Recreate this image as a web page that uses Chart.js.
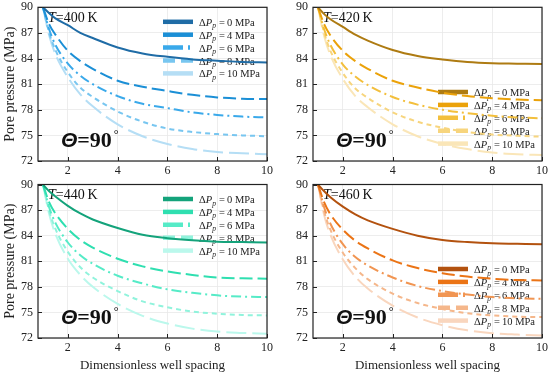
<!DOCTYPE html>
<html lang="en">
<head>
<meta charset="UTF-8">
<title>Pore pressure vs dimensionless well spacing</title>
<script src="https://cdn.jsdelivr.net/npm/chart.js"></script>
<style>
  html, body { margin: 0; padding: 0; background: #fff; }
  #wrap { position: relative; width: 550px; height: 375px; overflow: hidden; }
  #wrap canvas { position: absolute; }
</style>
</head>
<body>
<div id="wrap">
  <canvas id="c400" width="276" height="186" style="left:0;top:-6px"></canvas>
  <canvas id="c420" width="276" height="186" style="left:275px;top:-6px"></canvas>
  <canvas id="c440" width="276" height="205" style="left:0;top:170px"></canvas>
  <canvas id="c460" width="276" height="205" style="left:275px;top:170px"></canvas>
</div>
<script>
// x values (dimensionless well spacing) and tick labels
var spacing = [1, 1.25, 1.5, 2, 2.5, 3, 4, 5, 6, 7, 8, 9, 10];
var deltaPp = [0, 4, 6, 8, 10];
var xTicks = [2, 4, 6, 8, 10];
var yTicks = [72, 75, 78, 81, 84, 87, 90];

// pore pressure (MPa), one row per delta Pp
var pore400 = [
  [90, 89.3, 88.7, 87.9, 87.0, 86.4, 85.3, 84.6, 84.2, 83.9, 83.75, 83.6, 83.55],
  [90, 88.0, 86.8, 84.9, 83.7, 82.8, 81.4, 80.7, 80.2, 79.75, 79.45, 79.3, 79.25],
  [90, 87.4, 85.6, 83.4, 82.0, 81.0, 79.6, 78.7, 78.2, 77.7, 77.4, 77.2, 77.1],
  [90, 87.0, 85.0, 82.4, 80.6, 79.5, 77.8, 76.6, 75.8, 75.4, 75.15, 75.0, 74.9],
  [90, 86.7, 84.5, 81.8, 79.8, 78.4, 76.3, 74.9, 74.0, 73.4, 73.05, 72.9, 72.8]
];
var pore420 = [
  [90, 89.2, 88.6, 87.7, 86.8, 86.1, 85.0, 84.3, 83.9, 83.6, 83.45, 83.4, 83.35],
  [90, 88.0, 86.7, 84.9, 83.7, 82.8, 81.4, 80.6, 80.0, 79.6, 79.35, 79.2, 79.1],
  [90, 87.4, 85.6, 83.3, 81.9, 80.9, 79.5, 78.6, 78.0, 77.6, 77.3, 77.1, 77.0],
  [90, 87.0, 84.9, 82.3, 80.5, 79.4, 77.7, 76.6, 75.9, 75.4, 75.1, 74.95, 74.85],
  [90, 86.6, 84.4, 81.6, 79.6, 78.3, 76.3, 74.9, 74.0, 73.4, 73.0, 72.8, 72.7]
];
var pore440 = [
  [90, 89.2, 88.6, 87.5, 86.6, 85.9, 84.9, 84.1, 83.7, 83.45, 83.3, 83.25, 83.2],
  [90, 87.9, 86.6, 84.8, 83.5, 82.6, 81.3, 80.4, 79.8, 79.4, 79.1, 79.0, 78.95],
  [90, 87.3, 85.5, 83.2, 81.7, 80.7, 79.3, 78.4, 77.7, 77.3, 77.0, 76.85, 76.8],
  [90, 86.9, 84.8, 82.1, 80.3, 79.1, 77.5, 76.3, 75.6, 75.1, 74.85, 74.7, 74.65],
  [90, 86.5, 84.2, 81.3, 79.4, 78.0, 76.0, 74.6, 73.7, 73.1, 72.75, 72.6, 72.5]
];
var pore460 = [
  [90, 89.2, 88.5, 87.4, 86.5, 85.8, 84.8, 84.0, 83.5, 83.25, 83.1, 83.05, 83.0],
  [90, 87.9, 86.5, 84.7, 83.4, 82.5, 81.1, 80.2, 79.6, 79.2, 78.95, 78.8, 78.75],
  [90, 87.3, 85.4, 83.0, 81.5, 80.5, 79.1, 78.1, 77.5, 77.1, 76.8, 76.65, 76.6],
  [90, 86.8, 84.7, 82.0, 80.2, 78.9, 77.2, 76.1, 75.4, 74.9, 74.65, 74.5, 74.45],
  [90, 86.4, 84.1, 81.2, 79.2, 77.8, 75.8, 74.4, 73.5, 72.9, 72.55, 72.4, 72.3]
];

var colors400 = ['#1f6ca6', '#1b8fd6', '#3aa9ea', '#78c6f0', '#b5def5'];
var colors420 = ['#ae7b12', '#eba20a', '#f3bf3c', '#f7d57e', '#fae6b8'];
var colors440 = ['#14a37b', '#2fdfb0', '#56ebc7', '#90f3dc', '#bbf8ec'];
var colors460 = ['#b3520f', '#eb7416', '#f19552', '#f5b78b', '#f9d6be'];
var lineDash = [[], [13, 5], [10, 4, 2, 4], [5, 4], [20, 6]];
var legendDash = [[], [], [20, 5, 2, 10], [12, 6], []];

var SERIF = "'Liberation Serif', 'Times New Roman', serif";

// draws frame, inward ticks, legend and the two labels
var decorPlugin = {
  id: 'decor',
  beforeDatasetsDraw: function (chart) {
    var o = chart.options.plugins.decor;
    var ctx = chart.ctx, a = chart.chartArea;
    ctx.save();
    // T = ... K
    var x = a.left + 10, y = a.top + 14.5;
    ctx.fillStyle = '#111';
    ctx.textBaseline = 'alphabetic';
    ctx.font = 'italic 14px ' + SERIF;
    ctx.fillText('T', x, y);
    x += ctx.measureText('T').width;
    ctx.font = '14px ' + SERIF;
    ctx.fillText('=' + o.temp + '\u2009K', x, y);

    // legend
    var rowY = o.legend === 'top' ? a.top + 14.5 : a.bottom - 69;
    chart.data.datasets.forEach(function (ds, i) {
      var ry = rowY + i * 12.9;
      ctx.strokeStyle = ds.borderColor;
      ctx.lineWidth = 4.5;
      ctx.setLineDash(legendDash[i]);
      ctx.beginPath();
      ctx.moveTo(a.left + 125, ry);
      ctx.lineTo(a.left + 155, ry);
      ctx.stroke();
      ctx.setLineDash([]);
      var tx = a.left + 161, ty = ry + 4;
      ctx.fillStyle = '#222';
      ctx.font = '10.5px ' + SERIF;
      ctx.fillText('\u0394', tx, ty);
      tx += ctx.measureText('\u0394').width;
      ctx.font = 'italic 10.5px ' + SERIF;
      ctx.fillText('P', tx, ty);
      tx += ctx.measureText('P').width;
      ctx.font = 'italic 7.5px ' + SERIF;
      ctx.fillText('p', tx, ty + 2.5);
      tx += ctx.measureText('p').width + 1;
      ctx.font = '10.5px ' + SERIF;
      var rest = '\u2009=\u2009' + deltaPp[i] + ' MPa';
      ctx.fillText(rest, tx, ty);
    });

    // theta label
    x = a.left + 23; y = a.bottom - 14;
    ctx.fillStyle = '#111';
    ctx.font = 'bold italic 21px "Liberation Sans", Arial, sans-serif';
    ctx.fillText('\u0398', x, y);
    x += ctx.measureText('\u0398').width;
    ctx.font = 'bold 22px ' + SERIF;
    ctx.fillText('=90', x, y);
    x += ctx.measureText('=90').width + 2;
    ctx.font = '12px ' + SERIF;
    ctx.fillText('\u00b0', x, y - 9);
    ctx.restore();
  },
  afterDraw: function (chart) {
    var ctx = chart.ctx, a = chart.chartArea;
    var xs = chart.scales.x, ys = chart.scales.y;
    ctx.save();
    ctx.strokeStyle = '#222';
    ctx.lineWidth = 1;
    ctx.beginPath();
    xTicks.forEach(function (v) {
      var px = Math.round(xs.getPixelForValue(v)) + 0.5;
      ctx.moveTo(px, a.bottom);
      ctx.lineTo(px, a.bottom - 4);
    });
    yTicks.forEach(function (v) {
      var py = Math.round(ys.getPixelForValue(v)) + 0.5;
      ctx.moveTo(a.left, py);
      ctx.lineTo(a.left + 4, py);
    });
    ctx.stroke();
    ctx.lineWidth = 1.2;
    ctx.strokeRect(a.left, a.top, a.right - a.left, a.bottom - a.top);
    ctx.restore();
  }
};

// canvas layout: plot area should land at x 38..267, y 7..161 (top) and 184.5..338 (bottom)
var panels = [
  { id: 'c400', temp: 400, rows: pore400, colors: colors400, legend: 'top', yTitle: true, xTitle: false, padTop: 13.3, padBottom: 5, xh: 14 },
  { id: 'c420', temp: 420, rows: pore420, colors: colors420, legend: 'bottom', yTitle: false, xTitle: false, padTop: 13.3, padBottom: 5, xh: 14 },
  { id: 'c440', temp: 440, rows: pore440, colors: colors440, legend: 'top', yTitle: true, xTitle: true, padTop: 14.5, padBottom: 0, xh: 37 },
  { id: 'c460', temp: 460, rows: pore460, colors: colors460, legend: 'bottom', yTitle: false, xTitle: true, padTop: 14.5, padBottom: 0, xh: 37 }
];

panels.forEach(function (p) {
  var datasets = p.rows.map(function (row, i) {
    return {
      label: '\u0394Pp = ' + deltaPp[i] + ' MPa',
      data: spacing.map(function (s, k) { return { x: s, y: row[k] }; }),
      borderColor: p.colors[i],
      borderWidth: 2,
      borderDash: lineDash[i],
      pointRadius: 0,
      cubicInterpolationMode: 'monotone',
      fill: false,
      order: i
    };
  });

  new Chart(document.getElementById(p.id), {
    type: 'line',
    data: { datasets: datasets },
    plugins: [decorPlugin],
    options: {
      responsive: false,
      animation: false,
      layout: { padding: { left: 0, top: p.padTop, right: 9, bottom: p.padBottom } },
      plugins: {
        legend: { display: false },
        tooltip: { enabled: false },
        decor: { temp: p.temp, legend: p.legend }
      },
      scales: {
        x: {
          type: 'linear', min: 0.8, max: 10,
          afterBuildTicks: function (s) { s.ticks = xTicks.map(function (v) { return { value: v }; }); },
          afterFit: function (s) { s.height = p.xh; },
          grid: { color: '#e8e8e8', lineWidth: 0.8, drawTicks: false },
          border: { display: false },
          ticks: { color: '#222', padding: 3, maxRotation: 0, font: { family: SERIF, size: 12 } },
          title: {
            display: p.xTitle, text: 'Dimensionless well spacing', color: '#222',
            font: { family: SERIF, size: 13 }, padding: { top: 0, bottom: 2 }
          }
        },
        y: {
          min: 72, max: 90,
          afterBuildTicks: function (s) { s.ticks = yTicks.map(function (v) { return { value: v }; }); },
          afterFit: function (s) { s.width = 38; },
          grid: { color: '#e8e8e8', lineWidth: 0.8, drawTicks: false },
          border: { display: false },
          ticks: { color: '#222', padding: 5, font: { family: SERIF, size: 12 } },
          title: {
            display: p.yTitle, text: 'Pore pressure (MPa)', color: '#222',
            font: { family: SERIF, size: 14 }, padding: { top: 1.5, bottom: 0 }
          }
        }
      }
    }
  });
});
</script>
</body>
</html>
